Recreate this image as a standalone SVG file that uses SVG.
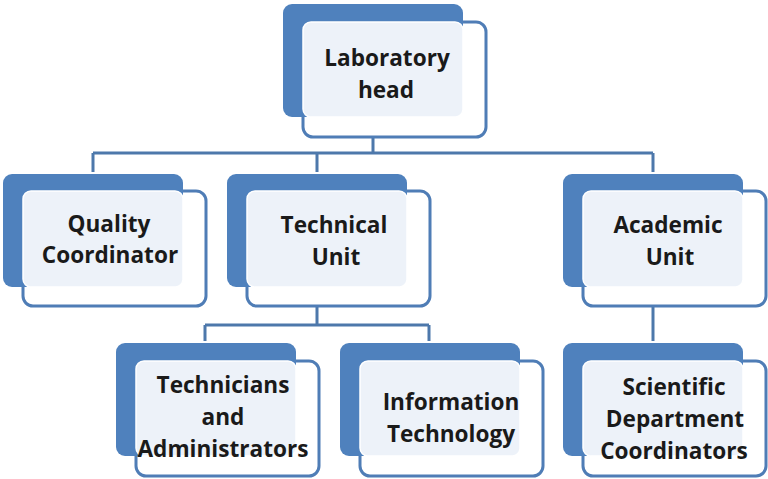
<svg xmlns="http://www.w3.org/2000/svg" width="768" height="479" viewBox="0 0 768 479">
<style>
.front{fill:#ffffff;stroke:#4f7db6;stroke-width:3}
.back{fill:#4f81bd}
.mid{fill:#edf2f9;stroke:#ffffff;stroke-width:1.5}
.lbl{font-family:"Open Sans","Liberation Sans",sans-serif;font-weight:700;font-size:22.6px;fill:#1a1a1a;text-anchor:middle}
.con{fill:none;stroke:#4d78ab;stroke-width:3}
.ghost{fill:none;stroke:#e2e9f3;stroke-width:3}
</style>
<rect width="768" height="479" fill="#ffffff"/>
<g id="connectors">
<path class="ghost" d="M373 119V136M317 289V305M653 289V305"/>
<path class="con" d="M373 138V153M93 153H653M93 153V172M317 153V172M653 153V172"/>
<path class="con" d="M317 307V325M205 325H429M205 325V341M429 325V341"/>
<path class="con" d="M653 307V341"/>
</g>
<g id="node-lab-head">
<rect class="front" x="303" y="22" width="183" height="115" rx="10"/>
<rect class="back" x="283" y="4" width="180" height="113" rx="9"/>
<rect class="mid" x="303" y="22" width="160" height="95" rx="8"/>
<text class="lbl" x="387" y="66">Laboratory</text>
<text class="lbl" x="386" y="98">head</text>
</g>
<g id="node-quality">
<rect class="front" x="23" y="191" width="183" height="115" rx="10"/>
<rect class="back" x="3" y="174" width="180" height="113" rx="9"/>
<rect class="mid" x="23" y="191" width="160" height="96" rx="8"/>
<text class="lbl" x="109" y="232">Quality</text>
<text class="lbl" x="110" y="263">Coordinator</text>
</g>
<g id="node-technical">
<rect class="front" x="247" y="191" width="183" height="115" rx="10"/>
<rect class="back" x="227" y="174" width="180" height="113" rx="9"/>
<rect class="mid" x="247" y="191" width="160" height="96" rx="8"/>
<text class="lbl" x="334" y="233">Technical</text>
<text class="lbl" x="336" y="265">Unit</text>
</g>
<g id="node-academic">
<rect class="front" x="583" y="191" width="183" height="115" rx="10"/>
<rect class="back" x="563" y="174" width="180" height="113" rx="9"/>
<rect class="mid" x="583" y="191" width="160" height="96" rx="8"/>
<text class="lbl" x="668" y="233">Academic</text>
<text class="lbl" x="670" y="265">Unit</text>
</g>
<g id="node-technicians">
<rect class="front" x="136" y="361" width="183" height="115" rx="10"/>
<rect class="back" x="116" y="343" width="180" height="113" rx="9"/>
<rect class="mid" x="136" y="361" width="160" height="95" rx="8"/>
<text class="lbl" x="223" y="393">Technicians</text>
<text class="lbl" x="223" y="425">and</text>
<text class="lbl" x="223" y="457">Administrators</text>
</g>
<g id="node-it">
<rect class="front" x="360" y="361" width="183" height="115" rx="10"/>
<rect class="back" x="340" y="343" width="180" height="113" rx="9"/>
<rect class="mid" x="360" y="361" width="160" height="95" rx="8"/>
<text class="lbl" x="451" y="410">Information</text>
<text class="lbl" x="451" y="442">Technology</text>
</g>
<g id="node-scientific">
<rect class="front" x="583" y="361" width="183" height="115" rx="10"/>
<rect class="back" x="563" y="343" width="180" height="113" rx="9"/>
<rect class="mid" x="583" y="361" width="160" height="95" rx="8"/>
<text class="lbl" x="674" y="395">Scientific</text>
<text class="lbl" x="675" y="427">Department</text>
<text class="lbl" x="674" y="459">Coordinators</text>
</g>
</svg>
